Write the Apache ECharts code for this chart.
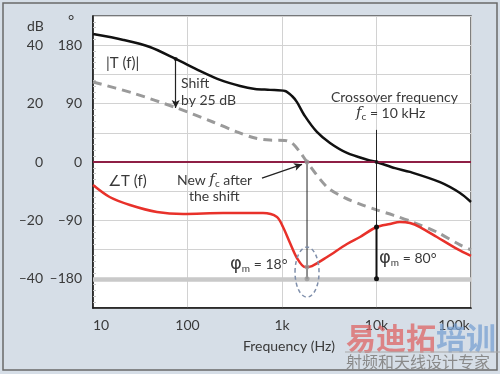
<!DOCTYPE html>
<html><head><meta charset="utf-8">
<script src="https://cdn.jsdelivr.net/npm/echarts@6/dist/echarts.min.js"></script>
<style>html,body{margin:0;padding:0;background:#e4e6e8}#c{width:500px;height:374px}</style>
</head><body><div id="c"></div>
<script>
// |T(f)| magnitude (dB)
const freqMag = [10,21,40,75,135,221,360,518,746,1077,1276,1440,1750,2340,3220,4870,8130,10000,15700,22600,47000,76500,100000];
const magDb   = [43.8,41.8,39.4,35.3,31.2,28.1,26.0,25.0,24.7,24.3,22.6,20.5,15.7,10.3,6.5,3.1,0.7,0,-2.1,-3.4,-6.9,-10.6,-13.7];
// shifted magnitude (dB), dashed
const freqShift = [10,26.5,77,186,334,518,746,1077,1276,1550,1840,3000,4640,6690,10000,15000,24300,43600,76500,100000];
const shiftDb   = [27.4,23.6,18.5,13.7,10.3,8.2,7.5,7.4,6.5,3.4,0,-8.6,-12.3,-14.4,-16.4,-18.2,-20.6,-24.0,-28.4,-30.1];
// phase ∠T(f) (degrees)
const freqPhase = [10,15,24.6,47.5,90,238,630,885,1025,1216,1440,1750,2075,3000,4870,6690,10000,13900,17700,22600,28800,43600,71100,100000];
const phaseDeg  = [-35.4,-53.9,-66.2,-77,-80.1,-78.6,-78.6,-84.7,-100.2,-124.8,-147.9,-161.8,-160.3,-146.4,-126.3,-115.6,-100.2,-95.5,-92.4,-94,-100.2,-115.6,-134,-144.8];
// axis tick labels
const xTickVals = [10,100,1000,10000,100000];
const xTickText = ['10','100','1k','10k','100k'];
const dbTicks  = [-40,-20,0,20,40];
const degTicks = [-180,-90,0,90,180];
// annotations
const shiftFreq = 75, shiftTop = 35.3, shiftBottom = 18.5;
const newFc = 1840, newFcPhase = -162;
const crossFc = 10000, crossTopDb = 11, crossPhase = -100;
const refPhase = -180;
const arrowFrom = [614, -5.5], arrowTo = [1630, -0.8];

const DEG_PER_DB = 4.5;
const FONT = 'Lato, "Open Sans", sans-serif';
const TXT = '#3a3a3a';

const zip = (a,b)=>a.map((v,i)=>[v,b[i]]);
const fmtDash = v => (v<0 ? '\u2013' + Math.abs(v) : String(v));

const chart = echarts.init(document.getElementById('c'), null, {renderer:'canvas'});

const option = {
  backgroundColor: '#d6dee7',
  animation: false,
  grid: {left:93, top:16, right:29, bottom:66, show:true, backgroundColor:'#fff', borderColor:'#555', borderWidth:1.5},
  xAxis: {
    type:'log', logBase:10, min:10, max:100000,
    axisLine:{show:true, onZero:false, lineStyle:{color:'#111', width:1.5}},
    axisTick:{show:false},
    splitLine:{show:true, lineStyle:{color:'#d2d2d2', width:1}},
    axisLabel:{
      margin:10, color:TXT, fontFamily:FONT, fontSize:14,
      formatter: v => {
        const i = xTickVals.findIndex(t => Math.abs(t - v)/t < 1e-6);
        if (i < 0) return '';
        if (i === 0) return '{l|' + xTickText[i] + '}';
        if (i === xTickVals.length-1) return '{r|' + xTickText[i] + '}';
        return xTickText[i];
      },
      rich:{ l:{padding:[0,0,0,16], fontFamily:FONT, fontSize:14, color:TXT},
             r:{padding:[0,34,0,0], fontFamily:FONT, fontSize:14, color:TXT} }
    },
    name:'Frequency (Hz)', nameLocation:'middle', nameGap:31,
    nameTextStyle:{color:TXT, fontFamily:FONT, fontSize:14, padding:[0,0,0,14]}
  },
  yAxis: [
    { type:'value', min:-50, max:50, interval:10, position:'left',
      axisLine:{show:true, onZero:false, lineStyle:{color:'#111', width:1.5}},
      axisTick:{show:false, inside:true},
      minorTick:{show:true, splitNumber:5, length:3, lineStyle:{color:'#c8c8c8'}},
      splitLine:{show:true, lineStyle:{color:'#d2d2d2', width:1}},
      axisLabel:{margin:50, color:TXT, fontFamily:FONT, fontSize:14,
        formatter: v => dbTicks.includes(v) ? fmtDash(v) : ''} },
    { type:'value', min:-225, max:225, interval:45, position:'left',
      axisLine:{show:false}, axisTick:{show:false}, splitLine:{show:false},
      axisLabel:{margin:11, color:TXT, fontFamily:FONT, fontSize:14,
        formatter: v => degTicks.includes(v) ? fmtDash(v) : ''} }
  ],
  series: [
    { type:'line', name:'ref', data:[], z:1, silent:true,
      markLine:{ silent:true, symbol:['none','none'], label:{show:false},
        data:[
          {yAxis:0, lineStyle:{color:'#8e1f45', width:2, type:'solid'}},
          {yAxis:refPhase/DEG_PER_DB, lineStyle:{color:'#c9c9c9', width:4.5, type:'solid'}}
        ]} },
    { type:'line', name:'shifted', data:zip(freqShift, shiftDb), smooth:0.3,
      showSymbol:false, z:3, lineStyle:{color:'#9a9a9a', width:3, type:[9,6]} },
    { type:'line', name:'|T(f)|', data:zip(freqMag, magDb), smooth:0.3,
      showSymbol:false, z:4, lineStyle:{color:'#111', width:2.5} },
    { type:'line', name:'phase', yAxisIndex:1, data:zip(freqPhase, phaseDeg), smooth:0.3,
      showSymbol:false, z:4, lineStyle:{color:'#e8312a', width:2.5} },
    // new fc vertical
    { type:'line', data:[[newFc,0],[newFc,refPhase/DEG_PER_DB]], showSymbol:false, z:5,
      lineStyle:{color:'#222', width:1} },
    // crossover vertical thin
    { type:'line', data:[[crossFc,crossTopDb],[crossFc,crossPhase/DEG_PER_DB]], showSymbol:false, z:5,
      lineStyle:{color:'#222', width:1} },
    // crossover phase margin segment
    { type:'line', data:[[crossFc,crossPhase/DEG_PER_DB],[crossFc,refPhase/DEG_PER_DB]], symbol:'circle', symbolSize:5, z:6,
      itemStyle:{color:'#111'}, lineStyle:{color:'#111', width:2} },
    // dots
    { type:'scatter', data:[[newFc,0],[newFc,refPhase/DEG_PER_DB],[newFc,newFcPhase/DEG_PER_DB]], symbolSize:5, z:7,
      itemStyle:{color:'#9a9a9a'} },
    { type:'scatter', data:[[crossFc,0],[shiftFreq,shiftTop]], symbolSize:4, z:7, itemStyle:{color:'#111'} },
    // arrows
    { type:'line', data:[], z:6,
      markLine:{ silent:true, label:{show:false}, symbol:['none','arrow'], symbolSize:[6,8],
        lineStyle:{color:'#222', width:1.2, type:'solid'},
        data:[
          [{coord:[shiftFreq,shiftTop]},{coord:[shiftFreq,shiftBottom]}],
          [{coord:arrowFrom},{coord:arrowTo}]
        ]} }
  ]
};
chart.setOption(option);

const ell = chart.convertToPixel({xAxisIndex:0, yAxisIndex:0}, [newFc, -37.7]);
const T = (x, y, text, extra) => Object.assign({type:'text', x, y, z:100,
  style:Object.assign({text, font:'14px ' + FONT, fill:TXT, verticalAlign:'middle', align:'left'}, extra||{})});
chart.setOption({
  graphic: [
    {type:'rect', z:90, shape:{x:3,y:3,width:494,height:367}, style:{fill:'none', stroke:'#6a6a6a', lineWidth:1.5}},
    T(27, 26, 'dB', {font:'14px ' + FONT}),
    T(68, 21, '°', {font:'15px ' + FONT}),
    T(106, 63, '|T (f)|', {font:'15px ' + FONT}),
    T(181, 83, 'Shift'),
    T(181, 100, 'by 25 dB'),
    T(331, 97, 'Crossover frequency'),
    {type:'text', x:356, y:113, z:100, style:{text:'{i|f}{s|c}{n| = 10 kHz}', verticalAlign:'middle',
      rich:{ i:{fontFamily:'"DejaVu Serif", serif', fontStyle:'italic', fontSize:15, fill:TXT},
             s:{fontFamily:FONT, fontSize:10, fill:TXT, padding:[8,0,0,0]},
             n:{fontFamily:FONT, fontSize:14, fill:TXT} }}},
    T(108, 181, '\u2220T (f)', {font:'15px ' + FONT}),
    {type:'text', x:177, y:180, z:100, style:{text:'{n|New }{i|f}{s|c}{n| after}', verticalAlign:'middle',
      rich:{ i:{fontFamily:'"DejaVu Serif", serif', fontStyle:'italic', fontSize:15, fill:TXT},
             s:{fontFamily:FONT, fontSize:10, fill:TXT, padding:[8,0,0,0]},
             n:{fontFamily:FONT, fontSize:14, fill:TXT} }}},
    T(189, 196, 'the shift'),
    {type:'text', x:230, y:264, z:100, style:{text:'{p|φ}{s|m}{n| = 18°}', verticalAlign:'middle',
      rich:{ p:{fontFamily:'"DejaVu Sans", sans-serif', fontSize:18, fill:TXT},
             s:{fontFamily:FONT, fontSize:10, fill:TXT, padding:[9,0,0,0]},
             n:{fontFamily:FONT, fontSize:14, fill:TXT} }}},
    {type:'text', x:379, y:258, z:100, style:{text:'{p|φ}{s|m}{n| = 80°}', verticalAlign:'middle',
      rich:{ p:{fontFamily:'"DejaVu Sans", sans-serif', fontSize:18, fill:TXT},
             s:{fontFamily:FONT, fontSize:10, fill:TXT, padding:[9,0,0,0]},
             n:{fontFamily:FONT, fontSize:14, fill:TXT} }}},
    {type:'ellipse', z:95, shape:{cx:ell[0], cy:ell[1], rx:12, ry:25},
      style:{fill:'none', stroke:'#7f8fab', lineWidth:1.5, lineDash:[4,3]}},
    // watermark
    {type:'text', x:346, y:338, z:110, style:{text:'{a|易迪拓}{b|培训}', verticalAlign:'middle',
      rich:{ a:{fontFamily:'"Noto Sans CJK SC"', fontWeight:'bold', fontSize:30, fill:'rgba(222,100,100,0.75)'},
             b:{fontFamily:'"Noto Sans CJK SC"', fontWeight:'bold', fontSize:30, fill:'rgba(120,160,210,0.75)'} }}},
    {type:'line', z:110, shape:{x1:345,y1:352,x2:500,y2:352}, style:{stroke:'#a8a8a8', lineWidth:1}},
    {type:'text', x:346, y:362, z:110, style:{text:'射频和天线设计专家', verticalAlign:'middle',
      font:'16px "Noto Sans CJK SC"', fill:'#8a8a8a'}}
  ]
});
</script></body></html>
